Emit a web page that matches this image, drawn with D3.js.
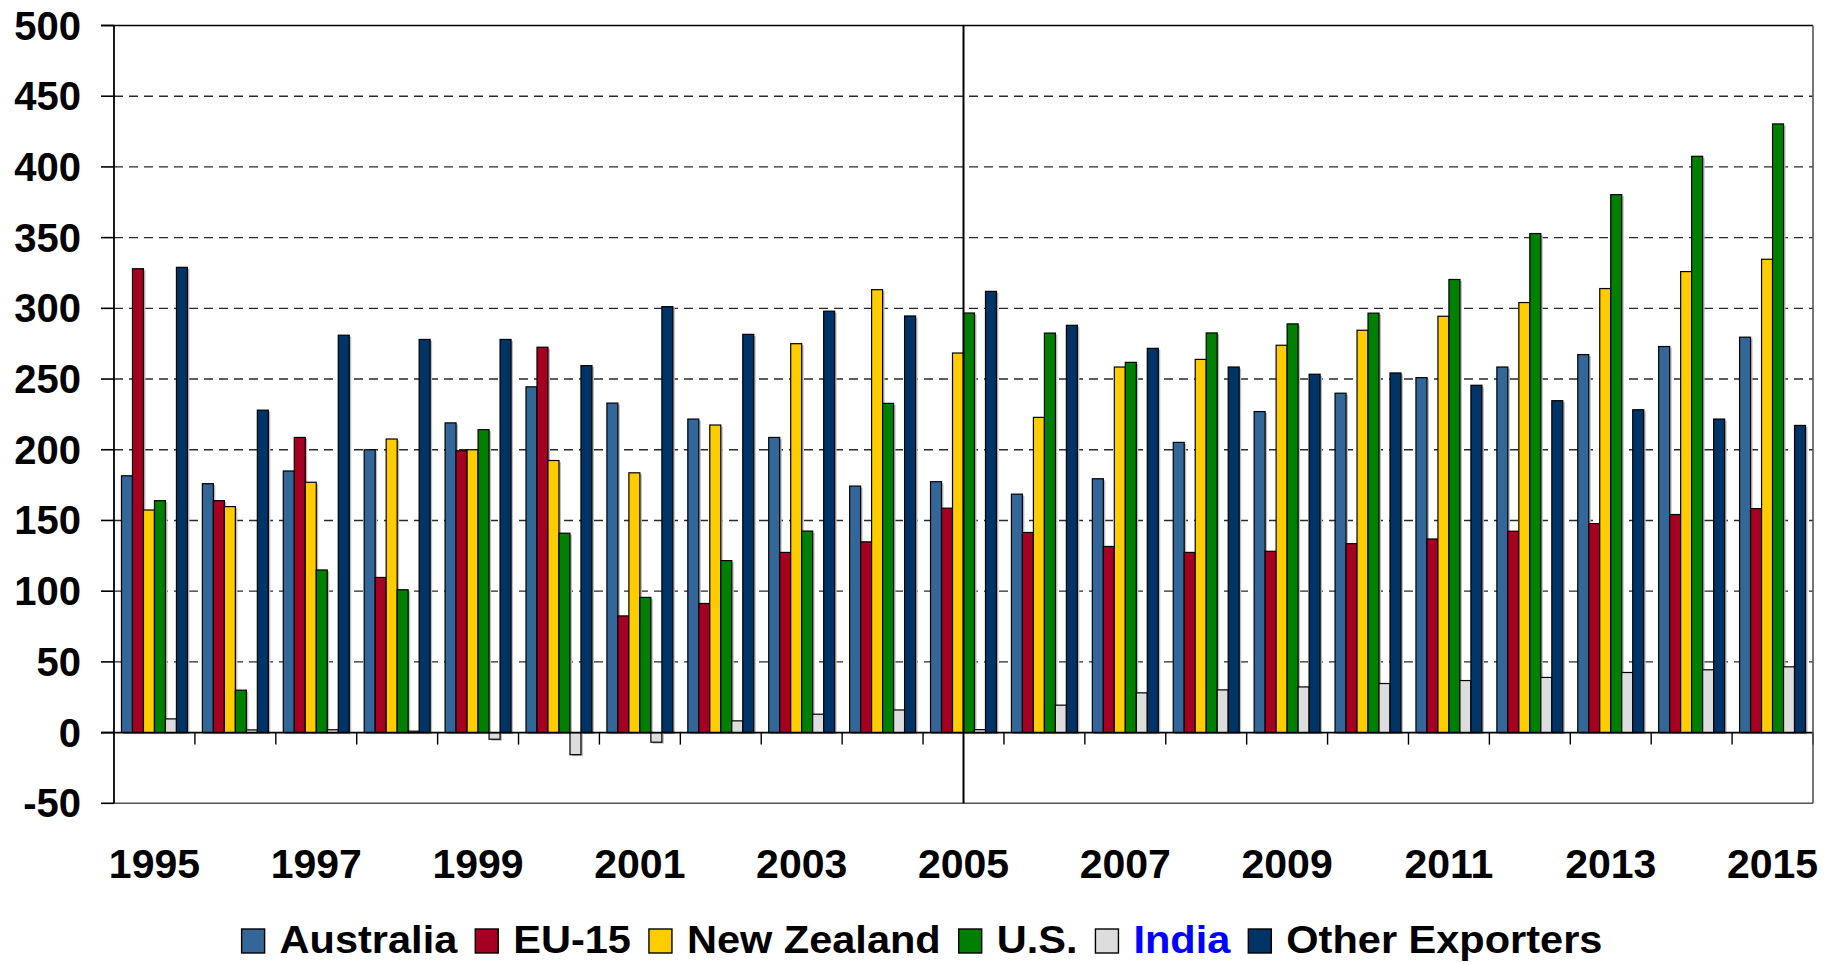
<!DOCTYPE html>
<html>
<head>
<meta charset="utf-8">
<script src="https://cdn.jsdelivr.net/npm/d3@7"></script>
<style>
  body { margin: 0; background: #fff; }
  svg { display: block; }
  text { font-family: "Liberation Sans", Arial, Helvetica, sans-serif; font-weight: bold; fill: #000; }
</style>
</head>
<body>
<svg id="chart" width="1839" height="964"></svg>
<script>
// Categories and tick labels
const years = ["1995","1996","1997","1998","1999","2000","2001","2002","2003","2004","2005",
               "2006","2007","2008","2009","2010","2011","2012","2013","2014","2015"];
const yearLabels = ["1995","1997","1999","2001","2003","2005","2007","2009","2011","2013","2015"];
const yTicks = [-50, 0, 50, 100, 150, 200, 250, 300, 350, 400, 450, 500];
const seriesNames = ["Australia", "EU-15", "New Zealand", "U.S.", "India", "Other Exporters"];
const seriesColors = ["#336699", "#A50021", "#FFCC00", "#008000", "#DDDDDD", "#003366"];
const dividerYear = "2005";

// Series values, one entry per year
const australia = [181.6, 176.0, 185.0, 200.0, 219.0, 244.5, 233.0, 221.7, 208.7, 174.3, 177.4,
                   168.6, 179.5, 205.2, 227.0, 240.0, 251.0, 258.5, 267.3, 273.0, 279.6];
const eu15      = [328.0, 164.0, 208.7, 109.7, 199.3, 272.5, 82.5, 91.3, 127.4, 134.9, 158.7,
                   141.5, 131.6, 127.4, 128.2, 133.6, 136.9, 142.4, 147.8, 154.2, 158.4];
const newZealand= [157.4, 159.8, 177.0, 207.6, 200.0, 192.4, 183.7, 217.5, 275.0, 313.2, 268.4,
                   222.9, 258.5, 263.9, 273.9, 284.5, 294.4, 304.1, 314.0, 326.0, 334.7];
const us        = [164.0, 30.0, 115.0, 101.0, 214.2, 141.0, 95.6, 121.6, 142.5, 232.8, 296.7,
                   282.5, 261.8, 282.6, 289.0, 296.6, 320.4, 352.9, 380.4, 407.5, 430.4];
const india     = [9.7, 1.9, 2.0, 1.0, -4.7, -15.6, -6.8, 8.3, 13.0, 16.0, 2.1,
                   19.4, 28.1, 30.2, 32.3, 34.7, 36.8, 39.0, 42.5, 44.4, 46.5];
const others    = [329.0, 228.0, 281.0, 278.0, 278.0, 259.5, 301.2, 281.6, 298.0, 294.6, 312.0,
                   288.0, 271.7, 258.5, 253.4, 254.3, 245.6, 234.7, 228.3, 221.7, 217.2];

const seriesValues = [australia, eu15, newZealand, us, india, others];

const svg = d3.select("#chart");
const plotLeft = 114, plotRight = 1813, plotTop = 25.5, plotBottom = 803.3;

const x = d3.scaleBand().domain(years).range([plotLeft, plotRight]).paddingInner(0).paddingOuter(0);
const xs = d3.scaleBand().domain(seriesNames).range([0, x.bandwidth()]).paddingInner(0).paddingOuter(0.68);
const y = d3.scaleLinear().domain([-50, 500]).range([plotBottom, plotTop]);

// Dashed horizontal gridlines
svg.append("g")
  .selectAll("line")
  .data(yTicks.filter(v => v > 0 && v < 500))
  .join("line")
  .attr("x1", plotLeft).attr("x2", plotRight)
  .attr("y1", d => y(d)).attr("y2", d => y(d))
  .attr("stroke", "#2a2a2a").attr("stroke-width", 1.4)
  .attr("stroke-dasharray", "9,6");

// Bars, grouped per year
const rows = years.map((yr, i) => ({
  year: yr,
  items: seriesNames.map((s, j) => ({ series: s, color: seriesColors[j], value: seriesValues[j][i] }))
}));

const groups = svg.append("g").selectAll("g")
  .data(rows)
  .join("g")
  .attr("transform", d => `translate(${x(d.year)},0)`);

// soft drop shadow on the right of each bar
groups.selectAll("rect.shadow")
  .data(d => d.items)
  .join("rect")
  .attr("class", "shadow")
  .attr("x", d => xs(d.series) + 2)
  .attr("y", d => Math.min(y(d.value), y(0)) + 1.5)
  .attr("width", xs.bandwidth())
  .attr("height", d => Math.abs(y(d.value) - y(0)))
  .attr("fill", "#bdbdbd");

groups.selectAll("rect.bar")
  .data(d => d.items)
  .join("rect")
  .attr("class", "bar")
  .attr("x", d => xs(d.series))
  .attr("y", d => Math.min(y(d.value), y(0)))
  .attr("width", xs.bandwidth())
  .attr("height", d => Math.abs(y(d.value) - y(0)))
  .attr("fill", d => d.color)
  .attr("stroke", "#000")
  .attr("stroke-width", 1.2);

// Zero line with category tick marks below it
svg.append("line")
  .attr("x1", plotLeft - 13).attr("x2", plotRight)
  .attr("y1", y(0)).attr("y2", y(0))
  .attr("stroke", "#000").attr("stroke-width", 1.6);

svg.append("g")
  .selectAll("line")
  .data(years.slice(1).concat(["end"]))
  .join("line")
  .attr("x1", d => d === "end" ? plotRight : x(d))
  .attr("x2", d => d === "end" ? plotRight : x(d))
  .attr("y1", y(0)).attr("y2", y(0) + 12)
  .attr("stroke", "#000").attr("stroke-width", 1.4);

// Plot frame
svg.append("line").attr("x1", plotLeft - 13).attr("x2", plotRight).attr("y1", plotTop).attr("y2", plotTop)
  .attr("stroke", "#000").attr("stroke-width", 1.6);
svg.append("line").attr("x1", plotLeft).attr("x2", plotRight).attr("y1", plotBottom).attr("y2", plotBottom)
  .attr("stroke", "#555").attr("stroke-width", 1.6);
svg.append("line").attr("x1", plotRight).attr("x2", plotRight).attr("y1", plotTop).attr("y2", plotBottom)
  .attr("stroke", "#555").attr("stroke-width", 1.6);

// Value axis
const yAxis = svg.append("g");
yAxis.append("line").attr("x1", plotLeft).attr("x2", plotLeft).attr("y1", plotTop).attr("y2", plotBottom)
  .attr("stroke", "#000").attr("stroke-width", 1.8);
yAxis.selectAll("line.tick")
  .data(yTicks)
  .join("line")
  .attr("class", "tick")
  .attr("x1", plotLeft - 13).attr("x2", plotLeft)
  .attr("y1", d => y(d)).attr("y2", d => y(d))
  .attr("stroke", "#000").attr("stroke-width", 1.6);
yAxis.selectAll("text")
  .data(yTicks)
  .join("text")
  .attr("x", 81)
  .attr("y", d => y(d) + 14)
  .attr("text-anchor", "end")
  .style("font-size", "40px")
  .text(d => d);

// Divider through the middle of 2005
svg.append("line")
  .attr("x1", x(dividerYear) + x.bandwidth() / 2)
  .attr("x2", x(dividerYear) + x.bandwidth() / 2)
  .attr("y1", plotTop).attr("y2", plotBottom)
  .attr("stroke", "#000").attr("stroke-width", 2);

// Year labels
svg.append("g").selectAll("text")
  .data(yearLabels)
  .join("text")
  .attr("x", d => x(d) + x.bandwidth() / 2)
  .attr("y", 878)
  .attr("text-anchor", "middle")
  .style("font-size", "41px")
  .text(d => d);

// Legend: swatch, then a slightly widened label
const legendStretch = 1.065;
const legend = svg.append("g");
const legendItems = legend.selectAll("g")
  .data(seriesNames.map((s, j) => ({ name: s, color: seriesColors[j] })))
  .join("g");
legendItems.append("rect")
  .attr("x", 0).attr("y", 929).attr("width", 23).attr("height", 24)
  .attr("fill", d => d.color).attr("stroke", "#000").attr("stroke-width", 1.4);
legendItems.append("text")
  .attr("transform", `translate(38,953) scale(${legendStretch},1)`)
  .style("font-size", "39px")
  .style("fill", d => d.name === "India" ? "#0000FF" : "#000")
  .text(d => d.name);

let cursor = 0;
const offsets = [];
legendItems.each(function () {
  const w = 38 + this.querySelector("text").getComputedTextLength() * legendStretch;
  offsets.push(cursor);
  cursor += w + 18;
});
const totalWidth = cursor - 18;
const startX = 922 - totalWidth / 2;
legendItems.attr("transform", (d, i) => `translate(${startX + offsets[i]},0)`);
</script>
</body>
</html>
